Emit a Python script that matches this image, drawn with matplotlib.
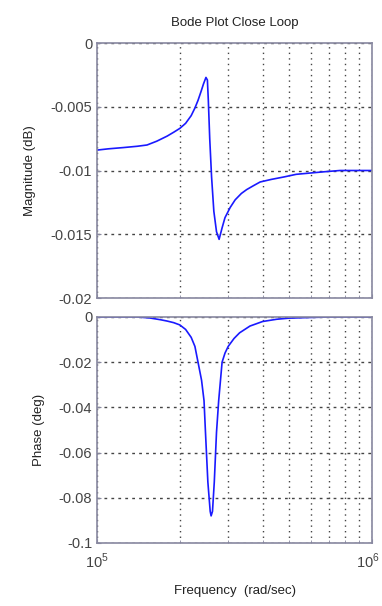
import matplotlib
matplotlib.use("Agg")
import matplotlib.pyplot as plt
import matplotlib.ticker as mticker
import matplotlib.transforms as mtrans

# magnitude (rad/sec, dB)
mag_freq = [1.0e5, 1.1e5, 1.25e5, 1.4e5, 1.52e5, 1.65e5, 1.8e5, 1.9e5, 2.0e5,
            2.1e5, 2.2e5, 2.27e5, 2.33e5, 2.39e5, 2.44e5, 2.47e5, 2.49e5, 2.52e5,
            2.54e5, 2.57e5, 2.61e5, 2.66e5, 2.72e5, 2.78e5, 2.85e5, 2.92e5,
            3.05e5, 3.18e5, 3.35e5, 3.5e5, 3.7e5, 3.92e5, 4.3e5, 4.8e5, 5.3e5,
            5.95e5, 6.7e5, 7.65e5, 8.7e5, 1.0e6]
mag_db = [-0.0084, -0.0083, -0.0082, -0.0081, -0.0080, -0.0077, -0.0073, -0.0070,
          -0.0067, -0.0063, -0.0057, -0.0051, -0.0045, -0.0038, -0.0032, -0.0029,
          -0.0027, -0.0029, -0.0045, -0.0075, -0.0105, -0.0132, -0.0148, -0.0154,
          -0.0145, -0.0137, -0.0129, -0.0123, -0.0118, -0.0115, -0.0112, -0.0109,
          -0.0107, -0.0105, -0.0103, -0.0102, -0.0101, -0.0100, -0.0100, -0.0100]

# phase (rad/sec, deg)
ph_freq = [1.0e5, 1.4e5, 1.55e5, 1.7e5, 1.8e5, 1.9e5, 2.0e5, 2.1e5, 2.2e5, 2.27e5,
           2.33e5, 2.4e5, 2.45e5, 2.48e5, 2.53e5, 2.58e5, 2.6e5, 2.63e5, 2.67e5,
           2.72e5, 2.77e5, 2.85e5, 2.92e5, 3.0e5, 3.15e5, 3.3e5, 3.6e5, 4.0e5,
           4.5e5, 5.0e5, 6.0e5, 7.0e5, 1.0e6]
ph_deg = [0.0, 0.0, -0.0004, -0.0012, -0.0018, -0.0025, -0.0035, -0.0055, -0.0090,
          -0.0130, -0.0200, -0.0280, -0.0370, -0.0510, -0.0730, -0.0860, -0.0880,
          -0.0860, -0.0730, -0.0510, -0.0370, -0.0200, -0.0160, -0.0130, -0.0095,
          -0.0070, -0.0040, -0.0020, -0.0010, -0.0005, -0.0002, 0.0, 0.0]

mag_ticks = [0, -0.005, -0.01, -0.015, -0.02]
ph_ticks = [0, -0.02, -0.04, -0.06, -0.08, -0.1]
freq_ticks = [1e5, 1e6]
freq_labels = [r'$10^5$', r'$10^6$']

plt.rcParams['font.family'] = ['Liberation Sans', 'DejaVu Sans']
plt.rcParams['mathtext.fontset'] = 'custom'
plt.rcParams['mathtext.rm'] = 'Liberation Sans'

fig = plt.figure(figsize=(3.82, 6.06), dpi=100)
ax1 = fig.add_axes([97/382, 1-298/606, 275/382, 255/606])
ax2 = fig.add_axes([97/382, 1-543/606, 275/382, 226/606], sharex=ax1)

line_col = '#1a1aff'
ax1.plot(mag_freq, mag_db, color=line_col, lw=1.2)
ax2.plot(ph_freq, ph_deg, color=line_col, lw=1.2)

for ax, ticks, lim in [(ax1, mag_ticks, (-0.02, 0)), (ax2, ph_ticks, (-0.1, 0))]:
    ax.set_xscale('log')
    ax.set_xlim(1e5, 1e6)
    ax.set_ylim(*lim)
    ax.set_yticks(ticks)
    ax.yaxis.set_major_formatter(mticker.FormatStrFormatter('%g'))
    ax.xaxis.set_minor_locator(mticker.LogLocator(base=10, subs=range(2, 10)))
    ax.xaxis.set_minor_formatter(mticker.NullFormatter())
    ax.grid(True, which='both', axis='x', color='#444444', ls=(0, (1, 3)), lw=1.0)
    ax.grid(True, which='major', axis='y', color='#444444', ls=(0, (2, 3)), lw=1.0)
    ax.tick_params(which='both', direction='in', colors='#8888a0', labelcolor='#444444',
                   labelsize=10.5, length=3)
    ax.tick_params(which='minor', length=2)
    for sp in ax.spines.values():
        sp.set_color('#8888a0')
        sp.set_linewidth(1.2)

ax1.tick_params(labelbottom=False)
ax2.set_xticks(freq_ticks, freq_labels)
ax2.tick_params(axis='x', pad=6)
# keep the 10^6 label inside the figure
last = ax2.get_xticklabels()[-1]
last.set_transform(last.get_transform() + mtrans.ScaledTranslation(-4/100, 0, fig.dpi_scale_trans))

ax1.set_title('Bode Plot Close Loop', fontsize=9.5, color='#222222', pad=12)
ax1.set_ylabel('Magnitude (dB)', fontsize=9.5, color='#222222', labelpad=10)
ax2.set_ylabel('Phase (deg)', fontsize=9.5, color='#222222', labelpad=10)
ax2.set_xlabel('Frequency  (rad/sec)', fontsize=9.5, color='#222222', labelpad=10)

fig.savefig('out.png', dpi=100)
